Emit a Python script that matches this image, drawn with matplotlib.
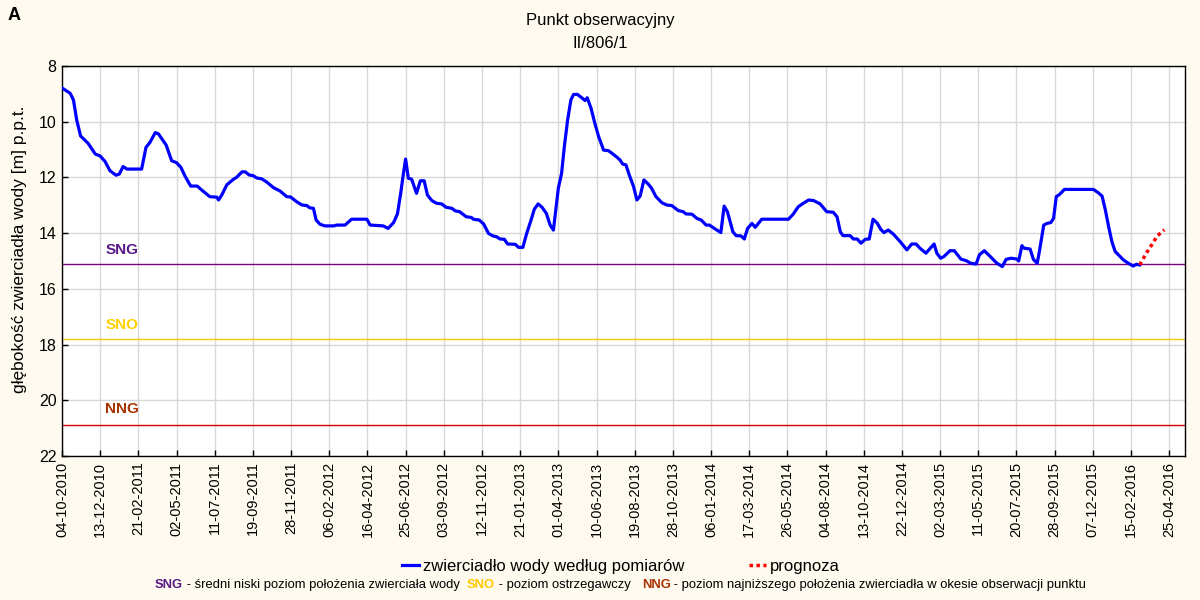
import numpy as np
import matplotlib
matplotlib.use("Agg")
import matplotlib.pyplot as plt
import matplotlib.dates as mdates

plt.rcParams['font.family'] = ['Liberation Sans', 'DejaVu Sans']

# ---- data ----
start_date = np.datetime64('2010-10-04')
end_date = np.datetime64('2016-05-24')
# days since start_date, depth of groundwater table [m]
obs_days = [1, 15, 21, 27, 34, 48, 61, 70, 79, 88, 99, 105, 112, 119, 146, 154, 161, 171, 177, 191,
            201, 210, 218, 226, 236, 248, 256, 271, 284, 287, 293, 302, 314, 320, 330, 336, 343, 351,
            357, 366, 375, 388, 400, 412, 419, 430, 440, 449, 454, 461, 466, 473, 482, 498, 504, 519,
            531, 559, 565, 589, 598, 608, 615, 621, 626, 630, 635, 641, 650, 657, 664, 670, 678, 687,
            696, 704, 715, 721, 729, 741, 751, 754, 765, 773, 782, 790, 797, 803, 811, 817, 831, 837,
            845, 852, 860, 866, 873, 880, 888, 895, 901, 906, 910, 916, 921, 927, 933, 938, 945, 953,
            959, 963, 970, 977, 984, 993, 1002, 1016, 1023, 1028, 1034, 1040, 1048, 1054, 1060, 1067,
            1075, 1081, 1089, 1100, 1109, 1118, 1130, 1139, 1144, 1155, 1164, 1172, 1181, 1187, 1196,
            1208, 1214, 1220, 1230, 1236, 1245, 1251, 1257, 1265, 1271, 1283, 1332, 1341, 1350, 1359,
            1369, 1378, 1390, 1402, 1414, 1421, 1427, 1432, 1445, 1451, 1458, 1465, 1473, 1480, 1487,
            1495, 1501, 1507, 1515, 1524, 1537, 1549, 1558, 1566, 1573, 1584, 1592, 1599, 1604, 1611,
            1617, 1628, 1636, 1648, 1658, 1666, 1676, 1682, 1691, 1702, 1714, 1724, 1731, 1740, 1751,
            1754, 1760, 1764, 1775, 1781, 1788, 1792, 1800, 1806, 1813, 1818, 1823, 1829, 1838, 1891,
            1900, 1907, 1913, 1919, 1925, 1931, 1939, 1946, 1955, 1964, 1970, 1976]
obs_depth = [8.80, 8.98, 9.22, 9.94, 10.51, 10.78, 11.16, 11.23, 11.43, 11.76, 11.92, 11.88, 11.61,
             11.70, 11.70, 10.92, 10.75, 10.39, 10.44, 10.84, 11.40, 11.47, 11.64, 11.97, 12.31, 12.31,
             12.45, 12.69, 12.71, 12.81, 12.63, 12.27, 12.07, 12.00, 11.80, 11.80, 11.91, 11.94, 12.02,
             12.05, 12.16, 12.37, 12.49, 12.69, 12.70, 12.87, 12.99, 13.01, 13.09, 13.11, 13.53, 13.68,
             13.74, 13.74, 13.71, 13.71, 13.50, 13.50, 13.71, 13.74, 13.83, 13.62, 13.31, 12.57, 11.85,
             11.34, 12.03, 12.06, 12.57, 12.12, 12.12, 12.63, 12.83, 12.93, 12.95, 13.07, 13.11, 13.20,
             13.23, 13.41, 13.44, 13.50, 13.53, 13.67, 14.01, 14.10, 14.13, 14.21, 14.22, 14.39, 14.40,
             14.51, 14.51, 14.01, 13.53, 13.14, 12.95, 13.07, 13.29, 13.71, 13.89, 13.05, 12.39, 11.85,
             10.90, 9.94, 9.22, 9.02, 9.02, 9.14, 9.24, 9.14, 9.52, 10.06, 10.54, 11.02, 11.04, 11.25,
             11.37, 11.52, 11.55, 11.91, 12.33, 12.81, 12.67, 12.09, 12.24, 12.39, 12.69, 12.91, 12.99,
             13.01, 13.19, 13.23, 13.31, 13.32, 13.47, 13.53, 13.71, 13.71, 13.83, 13.98, 13.03, 13.23,
             13.95, 14.09, 14.10, 14.21, 13.83, 13.65, 13.79, 13.50, 13.50, 13.31, 13.05, 12.93, 12.81,
             12.83, 12.95, 13.23, 13.25, 13.41, 13.95, 14.09, 14.09, 14.21, 14.21, 14.36, 14.22, 14.21,
             13.50, 13.65, 13.86, 13.98, 13.89, 14.03, 14.31, 14.60, 14.39, 14.39, 14.54, 14.72, 14.54,
             14.39, 14.72, 14.90, 14.84, 14.63, 14.63, 14.93, 14.99, 15.08, 15.11, 14.78, 14.63, 14.84,
             15.08, 15.20, 14.94, 14.90, 14.93, 15.00, 14.45, 14.54, 14.57, 14.94, 15.08, 14.66, 13.71,
             13.65, 13.62, 13.47, 12.69, 12.61, 12.43, 12.43, 12.55, 12.67, 13.17, 13.77, 14.31, 14.66,
             14.82, 14.96, 15.08, 15.18, 15.12, 15.14]
fc_days = [1976, 1981, 1990, 2000, 2008, 2021]
fc_depth = [15.14, 14.96, 14.66, 14.36, 14.10, 13.88]

SNG = 15.1
SNO = 17.8
NNG = 20.9

title_lines = ["Punkt obserwacyjny", "II/806/1"]
ylabel = "głębokość zwierciadła wody [m] p.p.t."
legend_labels = ["zwierciadło wody według pomiarów", "prognoza"]
yticks = [8, 10, 12, 14, 16, 18, 20, 22]
tick_step_days = 70

# ---- figure ----
bg = '#fffaef'
fig = plt.figure(figsize=(12, 6), dpi=100, facecolor=bg)
ax = fig.add_axes([62/1200, 1-456/600, (1185-62)/1200, (456-66)/600])
ax.set_facecolor('white')

obs_dates = start_date + np.array(obs_days).astype('timedelta64[D]')
fc_dates = start_date + np.array(fc_days).astype('timedelta64[D]')

ax.axhline(SNG, color='#800080', lw=1, zorder=2)
ax.axhline(SNO, color='#ffc800', lw=1, zorder=2)
ax.axhline(NNG, color='#d40000', lw=1, zorder=2)

ax.plot(obs_dates, obs_depth, color='#0000ff', lw=2.3, zorder=4, solid_joinstyle='round',
        label=legend_labels[0])
ax.plot(fc_dates, fc_depth, color='#ff0000', lw=2.5, ls=(0, (1, 1)), zorder=4,
        label=legend_labels[1])

ax.set_ylim(22, 8)
ax.set_yticks(yticks)
ax.set_xlim(start_date, end_date)
xt = start_date + np.arange(0, 2031, tick_step_days).astype('timedelta64[D]')
ax.set_xticks(xt)
ax.xaxis.set_major_formatter(mdates.DateFormatter('%d-%m-%Y'))
plt.setp(ax.get_xticklabels(), rotation=90, fontsize=10.5)
plt.setp(ax.get_yticklabels(), fontsize=11.5)
ax.tick_params(direction='in', length=4, width=1, pad=4)
ax.grid(True, color='#d8d8d8', lw=1, zorder=0)
ax.set_axisbelow(True)
for s in ax.spines.values():
    s.set_linewidth(1)
    s.set_color('black')

fig.text(20/1200, 1-249/600, ylabel, rotation=90, ha='center', va='center', fontsize=12.5)

# level labels
lbl_x = start_date + np.timedelta64(110, 'D')
ax.text(lbl_x, 14.62, 'SNG', color='#5a1a86', fontsize=11, fontweight='bold', ha='center', va='center')
ax.text(lbl_x, 17.3, 'SNO', color='#ffd000', fontsize=11, fontweight='bold', ha='center', va='center')
ax.text(lbl_x, 20.3, 'NNG', color='#a83200', fontsize=11, fontweight='bold', ha='center', va='center')

# titles
fig.text(600/1200, 1-20/600, title_lines[0], ha='center', va='center', fontsize=12)
fig.text(600/1200, 1-44/600, title_lines[1], ha='center', va='center', fontsize=12)
fig.text(8/1200, 1-15/600, 'A', ha='left', va='center', fontsize=13, fontweight='bold')

# legend
fig.legend(loc='center', bbox_to_anchor=(621/1200, 1-566/600), ncol=2, frameon=False,
           fontsize=12, handlelength=1.0, columnspacing=3.9, handletextpad=0.25,
           borderpad=0, borderaxespad=0)

# explanation line
pieces = [("SNG", '#5a1a86', 'bold'), (" - średni niski poziom położenia zwierciała wody  ", 'black', 'normal'),
          ("SNO", '#ffc800', 'bold'), (" - poziom ostrzegawczy   ", 'black', 'normal'),
          ("NNG", '#a83200', 'bold'), (" - poziom najniższego położenia zwierciadła w okesie obserwacji punktu", 'black', 'normal')]
renderer = fig.canvas.get_renderer()
xpos = 155/1200
ypos = 1-585/600
for txt, col, wt in pieces:
    t = fig.text(xpos, ypos, txt, color=col, fontweight=wt, fontsize=9.4, ha='left', va='center')
    bb = t.get_window_extent(renderer)
    xpos += bb.width / fig.bbox.width

fig.savefig('out.png', dpi=100, facecolor=bg)
